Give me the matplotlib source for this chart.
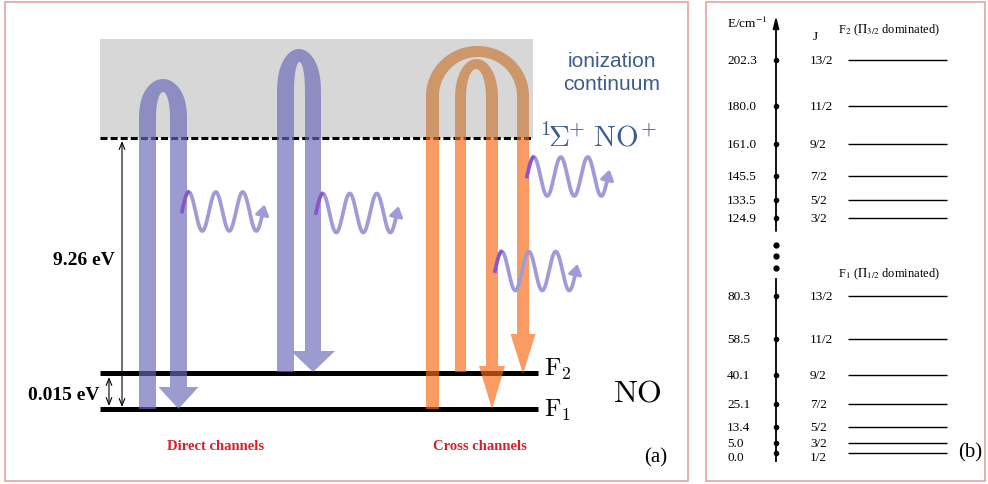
import matplotlib
matplotlib.use("Agg")
import matplotlib.pyplot as plt
from matplotlib.patches import Polygon, Rectangle, FancyArrowPatch
import numpy as np

# ---------------- data ----------------
f2_J = ["13/2", "11/2", "9/2", "7/2", "5/2", "3/2"]
f2_E = [202.3, 180.0, 161.0, 145.5, 133.5, 124.9]
f1_J = ["13/2", "11/2", "9/2", "7/2", "5/2", "3/2", "1/2"]
f1_E = [80.3, 58.5, 40.1, 25.1, 13.4, 5.0, 0.0]
ion_gap_label = "9.26 eV"
so_gap_label = "0.015 eV"
channel_labels = ["Direct channels", "Cross channels"]

# ---------------- style / layout ----------------
W, H = 988, 485
plt.rcParams['font.family'] = ['Liberation Serif', 'DejaVu Serif']
plt.rcParams['mathtext.fontset'] = 'stix'

BLUE = (105/255, 105/255, 184/255)
ORANGE = (250/255, 105/255, 22/255)
TAN = (202/255, 120/255, 52/255)
WAVE = '#a09bd7'
WAVE_START = '#8a55c8'
TXT_BLUE = '#3d5c90'
BORDER = '#e4a3a3'
ALPHA = 0.667

fig = plt.figure(figsize=(W/100, H/100), dpi=100)
ov = fig.add_axes([0, 0, 1, 1])
ov.set_xlim(0, W)
ov.set_ylim(H, 0)
ov.axis('off')

# panel borders
ov.add_patch(Rectangle((5, 3), 683, 479, fill=False, ec=BORDER, lw=1.2))
ov.add_patch(Rectangle((706, 3), 279, 479, fill=False, ec=BORDER, lw=1.2))

# ---------------- panel (a) ----------------
Y_ION, Y_F2, Y_F1 = 139, 374, 410
X0, X1 = 100, 533
ov.add_patch(Rectangle((X0, 40), X1 - X0, Y_ION - 40, color='#d7d7d7', lw=0, zorder=1))
ov.plot([X0, X1], [Y_ION, Y_ION], ls=(0, (2.3, 1.0)), lw=2.2, color='k', zorder=2)
ov.plot([X0, 538], [Y_F2, Y_F2], lw=3.6, color='k', solid_capstyle='butt', zorder=2)
ov.plot([X0, 538], [Y_F1, Y_F1], lw=3.6, color='k', solid_capstyle='butt', zorder=2)


def u_arrow_pts(xl_out, xl_in, xr_in, xr_out, y_bot, y_st, top_out, top_in,
                head_y, head_half, tip_y, pointed=0.0):
    cx_o = (xl_out + xr_out) / 2; a_o = (xr_out - xl_out) / 2; b_o = y_st - top_out
    cx_i = (xl_in + xr_in) / 2; a_i = (xr_in - xl_in) / 2; b_i = y_st - top_in
    th = np.linspace(np.pi, 0, 80)
    # superellipse-like exponent makes the arch slightly pointed
    ex = 1.0 + pointed

    def arc(cx, a, b, t):
        c = np.cos(t)
        s = np.sin(t)
        return cx + a * c, y_st - b * np.abs(s) ** (1 / ex) * (1 - pointed * 0.15 * c ** 2)

    pts = [(xl_out, y_bot), (xl_out, y_st)]
    xo, yo = arc(cx_o, a_o, b_o, th)
    pts += list(zip(xo, yo))
    xc = (xr_in + xr_out) / 2
    pts += [(xr_out, head_y), (xc + head_half, head_y), (xc, tip_y),
            (xc - head_half, head_y), (xr_in, head_y), (xr_in, y_st)]
    xi, yi = arc(cx_i, a_i, b_i, th[::-1])
    pts += list(zip(xi, yi))
    pts += [(xl_in, y_st), (xl_in, y_bot)]
    return pts


blue_arrows = [
    dict(xl_out=139, xl_in=156, xr_in=170, xr_out=187, y_bot=410, y_st=123,
         top_out=80, top_in=93, head_y=388, head_half=20, tip_y=410, pointed=0.4),
    dict(xl_out=277, xl_in=294, xr_in=305, xr_out=321, y_bot=373, y_st=97,
         top_out=50, top_in=63, head_y=352, head_half=22, tip_y=373, pointed=0.4),
]
orange_arrows = [
    dict(xl_out=426, xl_in=439, xr_in=517, xr_out=529, y_bot=410, y_st=97,
         top_out=47, top_in=58, head_y=335, head_half=12.5, tip_y=375),
    dict(xl_out=455, xl_in=466, xr_in=486, xr_out=498, y_bot=373, y_st=103,
         top_out=60, top_in=70, head_y=367, head_half=13, tip_y=410, pointed=0.3),
]

for a in blue_arrows:
    ov.add_patch(Polygon(u_arrow_pts(**a), closed=True, fc=BLUE, ec='none',
                         alpha=ALPHA, zorder=3))

clip_top = Rectangle((0, 0), W, Y_ION, transform=ov.transData)
clip_bot = Rectangle((0, Y_ION), W, H - Y_ION, transform=ov.transData)
for a in orange_arrows:
    p1 = Polygon(u_arrow_pts(**a), closed=True, fc=TAN, ec='none', alpha=ALPHA, zorder=3)
    ov.add_patch(p1)
    p1.set_clip_path(clip_top)
    p2 = Polygon(u_arrow_pts(**a), closed=True, fc=ORANGE, ec='none', alpha=ALPHA, zorder=3)
    ov.add_patch(p2)
    p2.set_clip_path(clip_bot)


def wave(x0, cy, L=81, amp=19.5, periods=3):
    t = np.linspace(0, 1, 300)
    x = x0 + L * t
    y = cy - amp * np.sin(2 * np.pi * periods * t)
    n0 = 22
    ov.plot(x[n0:], y[n0:], color=WAVE, lw=2.7, zorder=4, solid_capstyle='round')
    ov.plot(x[:n0 + 1], y[:n0 + 1], color=WAVE_START, lw=2.7, zorder=4)
    ov.add_patch(FancyArrowPatch((x[-6], y[-6]), (x[-1] + 1.5, y[-1] - 7),
                                 arrowstyle='-|>,head_length=6,head_width=4',
                                 color=WAVE, lw=2.2, shrinkA=0, shrinkB=0, zorder=4))


for x0, cy in [(182, 212.5), (316, 214), (527, 177.5), (495, 272)]:
    wave(x0, cy)

# energy gap arrows
ov.annotate('', xy=(122, 142), xytext=(122, 408),
            arrowprops=dict(arrowstyle='<->,head_length=0.5,head_width=0.2', lw=0.8, color='k',
                            shrinkA=0, shrinkB=0))
ov.annotate('', xy=(109, 378), xytext=(109, 407),
            arrowprops=dict(arrowstyle='<->,head_length=0.5,head_width=0.2', lw=0.8, color='k',
                            shrinkA=0, shrinkB=0))

ov.text(53, 265, ion_gap_label, fontsize=14, fontweight='bold', va='baseline', ha='left')
ov.text(28, 400, so_gap_label, fontsize=14, fontweight='bold', va='baseline', ha='left')

ov.text(612, 67, "ionization", family='Liberation Sans', fontsize=15, color=TXT_BLUE,
        ha='center', va='baseline')
ov.text(612, 90, "continuum", family='Liberation Sans', fontsize=15, color=TXT_BLUE,
        ha='center', va='baseline')
ov.text(539, 147, r"$^{1}\!\Sigma^{\!\!+}\, \mathrm{NO}^{\!+}$", math_fontfamily='cm', fontsize=21,
        color=TXT_BLUE, ha='left', va='baseline')
ov.text(544, 376, r"$\mathrm{F}_2$", math_fontfamily='cm', fontsize=18, ha='left', va='baseline')
ov.text(544, 417, r"$\mathrm{F}_1$", math_fontfamily='cm', fontsize=18, ha='left', va='baseline')
ov.text(613, 402, r"$\mathrm{NO}$", math_fontfamily='cm', fontsize=23, ha='left', va='baseline')

ov.text(216, 450, channel_labels[0], fontsize=10.5, fontweight='bold', color='#dc1e28',
        ha='center', va='baseline')
ov.text(480, 450, channel_labels[1], fontsize=10.5, fontweight='bold', color='#dc1e28',
        ha='center', va='baseline')
ov.text(656, 458, "(a)", fontsize=15, ha='center', va='center')
ov.text(970, 453, "(b)", fontsize=15, ha='center', va='center')

# ---------------- panel (b) ----------------
AX_X = 776


def level_axes(E, y_hi_px, y_lo_px, ax_top_px, ax_bot_px):
    s = (y_lo_px - y_hi_px) / (max(E) - min(E))
    e_hi = max(E) + (y_hi_px - ax_top_px) / s
    e_lo = min(E) - (ax_bot_px - y_lo_px) / s
    ax = fig.add_axes([706 / W, 1 - ax_bot_px / H, 279 / W, (ax_bot_px - ax_top_px) / H])
    ax.set_xlim(706, 985)
    ax.set_ylim(e_lo, e_hi)
    ax.axis('off')
    ax.patch.set_visible(False)
    to_e = lambda px: e_hi - (px - ax_top_px) / s
    return ax, to_e


axT, eT = level_axes(f2_E, 61, 219, 5, 240)
axB, eB = level_axes(f1_E, 297, 454, 262, 478)

axT.annotate('', xy=(AX_X, eT(17)), xytext=(AX_X, eT(232)),
             arrowprops=dict(arrowstyle='-|>,head_length=0.7,head_width=0.18', lw=1.3,
                             color='k', shrinkA=0, shrinkB=0))
axB.plot([AX_X, AX_X], [eB(280), eB(462)], color='k', lw=1.3)

for ax, E, J in [(axT, f2_E, f2_J), (axB, f1_E, f1_J)]:
    ax.plot([AX_X] * len(E), E, 'o', ms=3.0, color='k')
    ax.hlines(E, 848, 947, color='k', lw=1.0)
    for i, (e, j) in enumerate(zip(E, J)):
        dy = 0
        if j == "1/2":
            dy = -2.0
        ax.text(727, e + dy, f"{e:.1f}", fontsize=9.5, ha='left', va='center')
        ax.text(810, e + dy, j, fontsize=9.5, ha='left', va='center')

ov.plot([AX_X] * 3, [246, 257, 269], 'o', ms=3.5, color='k')

ov.text(727, 23, r"E/cm$^{-1}$", fontsize=9.5, ha='left', va='center')
ov.text(815, 37, "J", fontsize=9.5, ha='center', va='center')
ov.text(838, 30, r"F$_2$ ($\Pi_{3/2}$ dominated)", fontsize=9, ha='left', va='center')
ov.text(838, 274, r"F$_1$ ($\Pi_{1/2}$ dominated)", fontsize=9, ha='left', va='center')

fig.savefig("out.png", dpi=100)
